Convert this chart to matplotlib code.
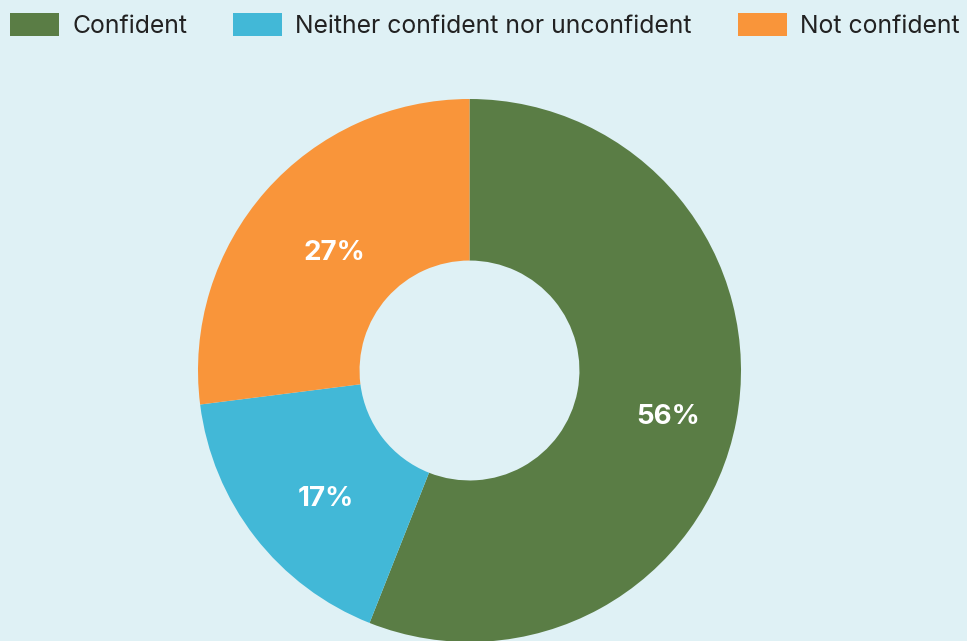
import matplotlib.pyplot as plt
from matplotlib.patches import Patch

labels = ['Confident', 'Neither confident nor unconfident', 'Not confident']
shares = [56, 17, 27]
colors = ['#5a7d45', '#42b8d7', '#f9953a']
bg = '#dff1f5'

plt.rcParams['font.family'] = ['Inter', 'DejaVu Sans']

fig = plt.figure(figsize=(9.67, 6.41), dpi=100, facecolor=bg)
W, H = 967, 641
cx, cy, r = 469.5, 370.5, 271.5
ax = fig.add_axes([(cx - r) / W, (H - cy - r) / H, 2 * r / W, 2 * r / H])
ax.set_facecolor(bg)

wedges, texts, autotexts = ax.pie(
    shares, colors=colors, startangle=90, counterclock=False,
    radius=1, autopct='%d%%', pctdistance=0.71,
    wedgeprops=dict(width=0.595, linewidth=0),
    textprops=dict(color='white', fontsize=20, fontweight='bold'))
# labels sit a little lower and to the right in the original
for t in autotexts:
    x, y = t.get_position()
    t.set_position((x + 9 / r, y - 10 / r))
ax.set_xlim(-1, 1)
ax.set_ylim(-1, 1)
ax.set_aspect('equal')
ax.axis('off')

handles = [Patch(facecolor=c, edgecolor='none') for c in colors]
fig.legend(handles, labels, loc='upper left', bbox_to_anchor=(10 / W, 1 - 13 / H),
           ncol=3, frameon=False, fontsize=17.8, handlelength=2.0, handleheight=1.05,
           handletextpad=0.52, columnspacing=1.85, borderpad=0, borderaxespad=0,
           labelcolor='#222222')

fig.savefig('out.png', dpi=100, facecolor=bg)
